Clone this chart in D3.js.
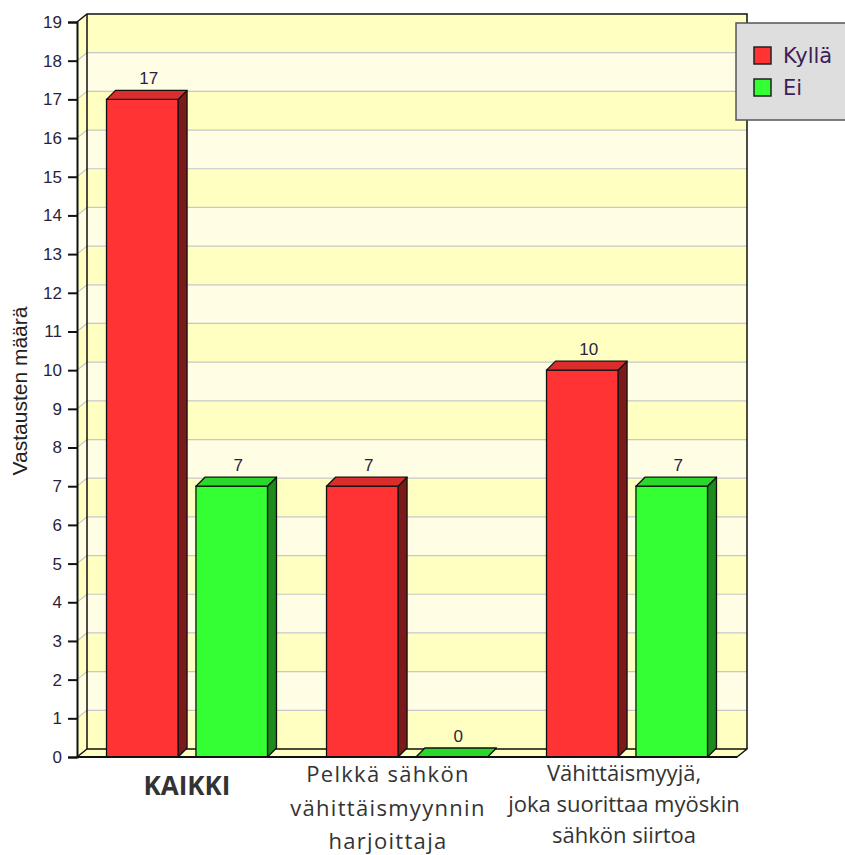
<!DOCTYPE html>
<html>
<head>
<meta charset="utf-8">
<script src="https://cdn.jsdelivr.net/npm/d3@7"></script>
<style>
  body { margin: 0; background: #fff; }
  svg { display: block; }
</style>
</head>
<body>
<div id="chart"></div>
<script>
// data
const categories = ["KAIKKI", "Pelkkä sähkön vähittäismyynnin harjoittaja", "Vähittäismyyjä, joka suorittaa myöskin sähkön siirtoa"];
const categoryLines = [
  ["KAIKKI"],
  ["Pelkkä sähkön", "vähittäismyynnin", "harjoittaja"],
  ["Vähittäismyyjä,", "joka suorittaa myöskin", "sähkön siirtoa"]
];
const seriesNames = ["Kyllä", "Ei"];
const kylla = [17, 7, 10];
const ei = [7, 0, 7];
const yTicks = d3.range(0, 20);
const yTitle = "Vastausten määrä";

const chartW = 845, chartH = 855;
const plotL = 77, plotR = 737, plotB = 757, plotT = 22;
const wallDx = 10, wallDy = 8;   // depth of the walls
const barDx = 9, barDy = 9;      // depth of the bars

const colors = {
  "Kyllä": {front: "#ff3333", side: "#7a1a1a", top: "#dc2d2d"},
  "Ei": {front: "#33ff33", side: "#1d8a1d", top: "#2ad82a"}
};

// label layout tweaks (the source centres the middle label a bit to the left)
const labelStyle = [
  {dx: 0, y0: 795, lh: 0, size: 26, weight: "bold", spacing: 0},
  {dx: -19, y0: 782, lh: 33.5, size: 22, weight: "normal", spacing: 1.3},
  {dx: -3, y0: 781, lh: 31, size: 22, weight: "normal", spacing: 0}
];

const svg = d3.select("#chart").append("svg")
  .attr("width", chartW)
  .attr("height", chartH);

const y = d3.scaleLinear().domain([0, 19]).range([plotB, plotT]);
const x0 = d3.scaleBand().domain(categories).range([plotL, plotR]);
const x1 = d3.scaleBand().domain(seriesNames)
  .range([0, x0.bandwidth()])
  .paddingInner(0.2)
  .paddingOuter(0.33);

const rows = categories.map((c, i) => ({cat: c, values: [
  {key: "Kyllä", value: kylla[i]},
  {key: "Ei", value: ei[i]}
]}));

// back wall + left wall with alternating bands
const walls = svg.append("g");
const bands = d3.range(0, 19);
walls.selectAll(".band")
  .data(bands)
  .join("rect")
  .attr("class", "band")
  .attr("x", plotL + wallDx)
  .attr("y", d => y(d + 1) - wallDy)
  .attr("width", plotR - plotL)
  .attr("height", d => y(d) - y(d + 1))
  .attr("fill", d => d % 2 === 0 ? "#ffffc2" : "#fffde3");

walls.selectAll(".lband")
  .data(bands)
  .join("path")
  .attr("class", "lband")
  .attr("d", d => `M${plotL},${y(d)}L${plotL + wallDx},${y(d) - wallDy}L${plotL + wallDx},${y(d + 1) - wallDy}L${plotL},${y(d + 1)}Z`)
  .attr("fill", d => d % 2 === 0 ? "#ffffc2" : "#fffde3");

walls.selectAll(".grid")
  .data(yTicks.slice(1, -1))
  .join("path")
  .attr("class", "grid")
  .attr("d", d => `M${plotL},${y(d)}L${plotL + wallDx},${y(d) - wallDy}L${plotR + wallDx},${y(d) - wallDy}`)
  .attr("fill", "none")
  .attr("stroke", "#c8c8c8")
  .attr("stroke-width", 1.2);

// wall outlines
walls.append("path")
  .attr("d", `M${plotL},${y(19)}L${plotL + wallDx},${y(19) - wallDy}L${plotR + wallDx},${y(19) - wallDy}L${plotR + wallDx},${plotB - wallDy}`)
  .attr("fill", "none").attr("stroke", "#111").attr("stroke-width", 1.5);
walls.append("line")
  .attr("x1", plotL + wallDx).attr("x2", plotL + wallDx)
  .attr("y1", y(19) - wallDy).attr("y2", plotB - wallDy)
  .attr("stroke", "#111").attr("stroke-width", 1.5);

// floor
walls.append("path")
  .attr("d", `M${plotL},${plotB}L${plotL + wallDx},${plotB - wallDy}L${plotR + wallDx},${plotB - wallDy}L${plotR},${plotB}Z`)
  .attr("fill", "#ffffc2").attr("stroke", "#111").attr("stroke-width", 1.5)
  .attr("stroke-linejoin", "round");

// bars
const groups = svg.append("g").selectAll(".grp")
  .data(rows)
  .join("g")
  .attr("class", "grp")
  .attr("transform", d => `translate(${x0(d.cat)},0)`);

const bars = groups.selectAll(".bar")
  .data(d => d.values)
  .join("g")
  .attr("class", "bar");

const bw = x1.bandwidth();
bars.each(function (d) {
  const g = d3.select(this);
  const bx = x1(d.key), by = y(d.value);
  const c = colors[d.key];
  if (d.value > 0) {
    g.append("path")
      .attr("d", `M${bx + bw},${by}L${bx + bw + barDx},${by - barDy}L${bx + bw + barDx},${plotB - barDy}L${bx + bw},${plotB}Z`)
      .attr("fill", c.side).attr("stroke", "#111").attr("stroke-width", 1.3).attr("stroke-linejoin", "round");
    g.append("rect")
      .attr("x", bx).attr("y", by)
      .attr("width", bw).attr("height", plotB - by)
      .attr("fill", c.front).attr("stroke", "#111").attr("stroke-width", 1.3);
  }
  g.append("path")
    .attr("d", `M${bx},${by}L${bx + barDx},${by - barDy}L${bx + bw + barDx},${by - barDy}L${bx + bw},${by}Z`)
    .attr("fill", d.value > 0 ? c.top : "#2ad82a").attr("stroke", "#111").attr("stroke-width", 1.3).attr("stroke-linejoin", "round");
  g.append("text")
    .attr("x", bx + bw / 2 + barDx / 2 + 2)
    .attr("y", by - barDy - 6)
    .attr("text-anchor", "middle")
    .attr("font-family", "Liberation Sans, Arial, sans-serif")
    .attr("font-size", 17)
    .attr("fill", "#2a1f3d")
    .text(d.value);
});

// y axis
const yAxis = d3.axisLeft(y).tickValues(yTicks).tickSize(9).tickPadding(6);
const yAxisG = svg.append("g")
  .attr("transform", `translate(${plotL},0)`)
  .call(yAxis);
yAxisG.select(".domain").attr("stroke", "#111").attr("stroke-width", 2);
yAxisG.selectAll(".tick line").attr("stroke", "#111").attr("stroke-width", 2);
yAxisG.selectAll(".tick text")
  .attr("font-family", "Liberation Sans, Arial, sans-serif")
  .attr("font-size", 17)
  .attr("fill", "#2a1f3d");

// front floor line
svg.append("line")
  .attr("x1", plotL).attr("x2", plotR)
  .attr("y1", plotB).attr("y2", plotB)
  .attr("stroke", "#111").attr("stroke-width", 2);

svg.append("text")
  .attr("transform", `translate(27,${391}) rotate(-90)`)
  .attr("text-anchor", "middle")
  .attr("font-family", "Liberation Sans, Arial, sans-serif")
  .attr("font-size", 21)
  .attr("fill", "#222")
  .text(yTitle);

// category labels
const xl = svg.append("g");
categories.forEach((c, i) => {
  const st = labelStyle[i];
  const cx = x0(c) + x0.bandwidth() / 2 + st.dx;
  const t = xl.append("text")
    .attr("text-anchor", "middle")
    .attr("font-family", "Open Sans, sans-serif")
    .attr("font-size", st.size)
    .attr("font-weight", st.weight)
    .attr("letter-spacing", st.spacing)
    .attr("fill", "#333");
  categoryLines[i].forEach((ln, j) => {
    t.append("tspan")
      .attr("x", cx)
      .attr("y", st.y0 + j * st.lh)
      .text(ln);
  });
});

// legend
const legend = svg.append("g").attr("transform", "translate(736,23)");
legend.append("rect")
  .attr("width", 120).attr("height", 97)
  .attr("fill", "#dedede").attr("stroke", "#555").attr("stroke-width", 1.5);
seriesNames.forEach((s, i) => {
  legend.append("rect")
    .attr("x", 18).attr("y", 24 + i * 32)
    .attr("width", 17).attr("height", 17)
    .attr("fill", colors[s].front).attr("stroke", "#222").attr("stroke-width", 1.5);
  legend.append("text")
    .attr("x", 47).attr("y", 40 + i * 32)
    .attr("font-family", "DejaVu Sans, Verdana, sans-serif")
    .attr("font-size", 21)
    .attr("fill", "#3a1f55")
    .text(s);
});
</script>
</body>
</html>
